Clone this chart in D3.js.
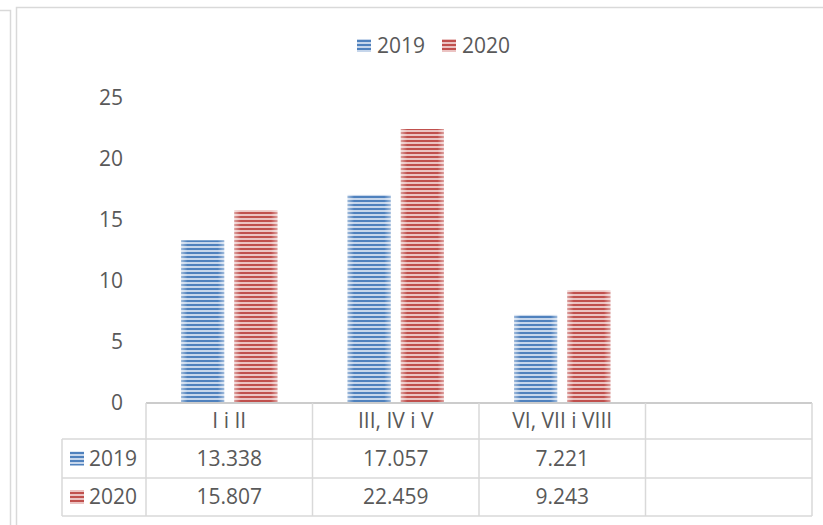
<!DOCTYPE html>
<html>
<head>
<meta charset="utf-8">
<style>
  body { margin: 0; background-color: white; }
  svg { font-family: 'Open Sans'; }
  .frame { fill: none; stroke: #d9d9d9; stroke-width: 1.5px; }
  .grid line { stroke: #d9d9d9; stroke-width: 1.5px; }
  text { fill: #595959; }
</style>
</head>
<body>

<script src="https://d3js.org/d3.v7.min.js"></script>

<div id="my_dataviz"></div>

<script>

// data
var categories = ["I i II", "III, IV i V", "VI, VII i VIII", ""];
var seriesNames = ["2019", "2020"];
var values2019 = [13.338, 17.057, 7.221, null];
var values2020 = [15.807, 22.459, 9.243, null];
var yTicks = [0, 5, 10, 15, 20, 25];

var seriesValues = [values2019, values2020];
var colors = { "2019": ["#4f81bd", "#c6d6eb"], "2020": ["#c0504d", "#ebc3c2"] };

var width = 823, height = 525;

var svg = d3.select("#my_dataviz")
  .append("svg")
    .attr("width", width)
    .attr("height", height);

// stripe patterns and edge highlight
var defs = svg.append("defs");
seriesNames.forEach(function(s) {
  var p = defs.append("pattern")
    .attr("id", "stripe" + s)
    .attr("patternUnits", "userSpaceOnUse")
    .attr("width", 8).attr("height", 4);
  p.append("rect").attr("width", 8).attr("height", 4).attr("fill", colors[s][1]);
  p.append("rect").attr("width", 8).attr("height", 2).attr("fill", colors[s][0]);
});
var grad = defs.append("linearGradient").attr("id", "edgeGlow");
grad.append("stop").attr("offset", "0%").attr("stop-color", "white").attr("stop-opacity", 0.45);
grad.append("stop").attr("offset", "15%").attr("stop-color", "white").attr("stop-opacity", 0);
grad.append("stop").attr("offset", "85%").attr("stop-color", "white").attr("stop-opacity", 0);
grad.append("stop").attr("offset", "100%").attr("stop-color", "white").attr("stop-opacity", 0.45);

// frames
svg.append("path").attr("class", "frame").attr("d", "M0,10.5H10.5V530");
svg.append("rect").attr("class", "frame")
  .attr("x", 16.5).attr("y", 7.5).attr("width", 820).attr("height", 530);

// scales
var x0 = d3.scaleBand()
  .domain(categories.map(function(d, i) { return i; }))
  .range([146, 812])
  .padding(0);

var x1 = d3.scaleBand()
  .domain(seriesNames)
  .range([0, x0.bandwidth()])
  .paddingInner(0.19)
  .paddingOuter(0.66);

var y = d3.scaleLinear()
  .domain([0, 25])
  .range([403, 98]);

// Y axis, labels only
var yAxis = svg.append("g")
  .attr("transform", "translate(123,0)")
  .call(d3.axisLeft(y).tickValues(yTicks).tickSize(0).tickPadding(0));
yAxis.select(".domain").remove();
yAxis.selectAll("text")
  .style("font-size", "21px")
  .style("font-family", "Open Sans")
  .attr("fill", "#595959");

// bars
seriesNames.forEach(function(s, si) {
  var vals = seriesValues[si];
  var g = svg.append("g");
  var data = vals.map(function(v, i) { return { i: i, v: v }; })
    .filter(function(d) { return d.v != null; });
  g.selectAll("rect.bar")
    .data(data)
    .enter().append("rect")
      .attr("class", "bar")
      .attr("x", function(d) { return x0(d.i) + x1(s); })
      .attr("y", function(d) { return y(d.v); })
      .attr("width", x1.bandwidth())
      .attr("height", function(d) { return y(0) - y(d.v); })
      .attr("fill", "url(#stripe" + s + ")");
  g.selectAll("rect.glow")
    .data(data)
    .enter().append("rect")
      .attr("class", "glow")
      .attr("x", function(d) { return x0(d.i) + x1(s); })
      .attr("y", function(d) { return y(d.v); })
      .attr("width", x1.bandwidth())
      .attr("height", function(d) { return y(0) - y(d.v); })
      .attr("fill", "url(#edgeGlow)");
});

// data table
var rowEdges = [403, 439, 478, 516];
var tableLeft = 62;
var grid = svg.append("g").attr("class", "grid");

grid.append("line")
  .attr("x1", 146).attr("x2", 812).attr("y1", 403).attr("y2", 403)
  .style("stroke", "#cccccc").style("stroke-width", "2px");
rowEdges.slice(1).forEach(function(r) {
  grid.append("line").attr("x1", tableLeft).attr("x2", 812).attr("y1", r).attr("y2", r);
});
categories.forEach(function(c, i) {
  grid.append("line")
    .attr("x1", x0(i)).attr("x2", x0(i)).attr("y1", 403).attr("y2", 516);
});
grid.append("line").attr("x1", 812).attr("x2", 812).attr("y1", 403).attr("y2", 516);
grid.append("line").attr("x1", tableLeft).attr("x2", tableLeft).attr("y1", 439).attr("y2", 516);

// header row
svg.selectAll("text.cat")
  .data(categories)
  .enter().append("text")
    .attr("class", "cat")
    .attr("x", function(d, i) { return x0(i) + x0.bandwidth() / 2; })
    .attr("y", (rowEdges[0] + rowEdges[1]) / 2)
    .attr("dy", "0.35em")
    .attr("text-anchor", "middle")
    .style("font-size", "21px")
    .text(function(d) { return d; });

// value rows
seriesNames.forEach(function(s, si) {
  var cy = (rowEdges[si + 1] + rowEdges[si + 2]) / 2;
  svg.append("rect")
    .attr("x", 70).attr("y", cy - 7).attr("width", 14).attr("height", 14)
    .attr("fill", "url(#stripe" + s + ")");
  svg.append("text")
    .attr("x", 89).attr("y", cy).attr("dy", "0.35em")
    .style("font-size", "21px")
    .text(s);
  svg.selectAll("text.val" + s)
    .data(seriesValues[si])
    .enter().append("text")
      .attr("x", function(d, i) { return x0(i) + x0.bandwidth() / 2; })
      .attr("y", cy)
      .attr("dy", "0.35em")
      .attr("text-anchor", "middle")
      .style("font-size", "21px")
      .text(function(d) { return d == null ? "" : d3.format(".3f")(d); });
});

// legend on top
var legendX = [357, 442];
seriesNames.forEach(function(s, si) {
  svg.append("rect")
    .attr("x", legendX[si]).attr("y", 39).attr("width", 14).attr("height", 13)
    .attr("fill", "url(#stripe" + s + ")");
  svg.append("text")
    .attr("x", legendX[si] + 20).attr("y", 45.5).attr("dy", "0.35em")
    .style("font-size", "21px")
    .text(s);
});

</script>
</body>
</html>
